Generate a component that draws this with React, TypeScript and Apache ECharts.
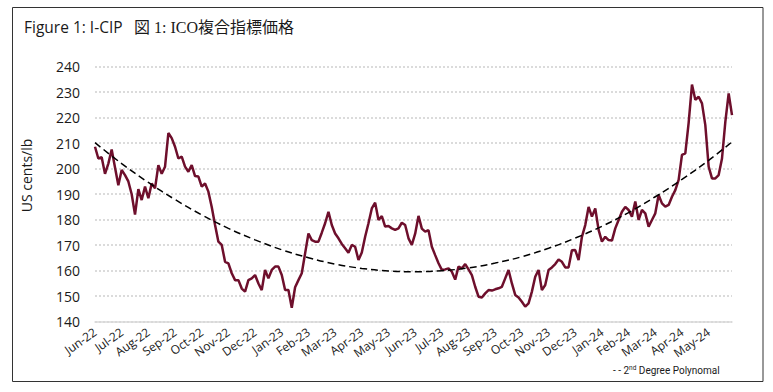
import React, { useEffect, useRef } from "react";
import * as echarts from "echarts";

const monthLabels = [
  "Jun-22", "Jul-22", "Aug-22", "Sep-22", "Oct-22", "Nov-22", "Dec-22", "Jan-23",
  "Feb-23", "Mar-23", "Apr-23", "May-23", "Jun-23", "Jul-23", "Aug-23", "Sep-23",
  "Oct-23", "Nov-23", "Dec-23", "Jan-24", "Feb-24", "Mar-24", "Apr-24", "May-24",
];

// I-CIP, US cents/lb, ~8 observations per month starting Jun 2022
const priceValues = [
  208.6, 204.0, 204.5, 198.0, 202.0, 207.5, 200.5, 193.5,
  199.5, 197.5, 195.0, 190.0, 182.0, 192.0, 187.7, 193.0,
  188.4, 194.2, 192.3, 201.4, 198.0, 200.8, 214.0, 212.0,
  208.6, 204.0, 204.7, 200.8, 198.8, 201.4, 197.1, 196.9,
  193.0, 194.2, 191.0, 185.0, 177.9, 171.4, 170.1, 163.5,
  162.9, 159.0, 156.3, 156.3, 153.0, 151.8, 156.3, 157.0,
  158.3, 155.0, 152.4, 160.3, 157.0, 160.3, 161.6, 161.6,
  158.3, 152.4, 152.4, 145.5, 153.5, 156.3, 159.0, 166.8,
  174.6, 172.0, 171.4, 171.4, 174.9, 178.6, 183.1, 177.9,
  174.6, 172.7, 170.5, 168.8, 167.0, 170.1, 169.4, 164.2,
  167.1, 173.3, 178.6, 184.4, 186.7, 179.9, 181.4, 177.3,
  177.5, 176.6, 176.0, 176.6, 178.8, 177.9, 172.7, 170.1,
  174.5, 181.5, 176.5, 175.3, 175.9, 169.4, 166.1, 162.9,
  160.3, 160.5, 160.9, 159.6, 156.5, 161.6, 160.9, 162.6,
  160.5, 158.3, 153.7, 149.8, 149.5, 151.1, 152.4, 152.2,
  152.7, 153.1, 153.7, 157.0, 160.3, 155.0, 150.5, 149.5,
  147.8, 145.9, 147.2, 151.8, 157.6, 160.3, 152.4, 154.4,
  160.3, 161.3, 162.6, 164.4, 163.5, 161.3, 161.3, 168.0,
  168.1, 164.2, 173.3, 177.9, 185.0, 181.2, 184.4, 176.0,
  171.4, 173.3, 172.0, 171.8, 176.6, 179.9, 183.1, 185.0,
  183.8, 181.2, 187.1, 179.9, 183.8, 182.5, 177.3, 179.9,
  182.5, 189.7, 186.4, 185.1, 185.8, 189.0, 191.6, 195.6,
  205.4, 206.0, 218.0, 233.0, 227.0, 228.2, 225.6, 217.1,
  200.8, 196.2, 196.2, 197.5, 204.0, 218.4, 229.5, 221.0,
];

// 2nd degree polynomial trend, read at month starts (and at the last observation)
const trendIndex = [0, 8, 16, 24, 32, 40, 48, 56, 64, 72, 80, 88, 96, 104, 112, 120, 128, 136, 144, 152, 160, 168, 176, 184, 191];
const trendValues = [
  210.2, 202.0, 194.6, 187.9, 181.9, 176.6, 172.1, 168.2, 165.1, 162.6, 160.9, 159.9,
  159.6, 160.0, 161.1, 163.0, 165.5, 168.8, 172.8, 177.4, 182.8, 189.0, 195.8, 203.3, 210.5,
];

const yTicks = { min: 140, max: 240, interval: 10 };
const POINTS_PER_MONTH = 8;
const SANS = "'Open Sans', 'Noto Sans', sans-serif";

export default function App() {
  const ref = useRef<HTMLDivElement>(null);

  useEffect(() => {
    if (!ref.current) return;
    const chart = echarts.init(ref.current, null, { renderer: "svg" });
    const priceData = priceValues.map((v, i) => [i, v]);
    const trendData = trendIndex.map((x, i) => [x, trendValues[i]]);
    const lastIndex = priceValues.length - 1;

    chart.setOption({
      animation: false,
      backgroundColor: "#ffffff",
      grid: { left: 95, right: 41, top: 66.7, bottom: 70.3, containLabel: false },
      xAxis: {
        type: "value",
        min: 0,
        max: lastIndex,
        interval: POINTS_PER_MONTH,
        axisLine: { show: true, lineStyle: { color: "#d9d9d9", width: 1.5 } },
        axisTick: { show: false },
        splitLine: { show: false },
        axisLabel: {
          rotate: 35,
          margin: 9,
          fontSize: 12,
          color: "#1a1a1a",
          fontFamily: SANS,
          showMaxLabel: false,
          formatter: (v: number) =>
            v % POINTS_PER_MONTH === 0 ? monthLabels[v / POINTS_PER_MONTH] ?? "" : "",
        },
      },
      yAxis: {
        type: "value",
        min: yTicks.min,
        max: yTicks.max,
        interval: yTicks.interval,
        axisLine: { show: false },
        axisTick: { show: false },
        axisLabel: {
          margin: 15,
          fontSize: 14,
          color: "#1a1a1a",
          fontFamily: SANS,
        },
        splitLine: { show: true, lineStyle: { color: "#cfcfcf", width: 1.5, type: [2, 2] } },
      },
      series: [
        {
          name: "I-CIP",
          type: "line",
          data: priceData,
          showSymbol: false,
          symbol: "none",
          lineStyle: { color: "#6e0f2c", width: 2.5 },
          z: 2,
        },
        {
          name: "2nd Degree Polynomal",
          type: "line",
          data: trendData,
          smooth: 0.4,
          showSymbol: false,
          symbol: "none",
          lineStyle: { color: "#000000", width: 1.5, type: [7, 4] },
          z: 3,
        },
      ],
      graphic: [
        {
          type: "rect",
          shape: { x: 12.5, y: 7.5, width: 750.5, height: 374 },
          style: { fill: "none", stroke: "#333333", lineWidth: 1 },
          silent: true,
        },
        {
          type: "text",
          x: 24,
          y: 27,
          style: {
            text: "Figure 1: I-CIP",
            fontSize: 15.5,
            fontFamily: SANS,
            fill: "#1a1a1a",
            verticalAlign: "middle",
          },
        },
        {
          type: "text",
          x: 134,
          y: 27,
          style: {
            text: "図 1: ICO複合指標価格",
            fontSize: 16,
            fontFamily: "'Liberation Serif', 'Noto Sans CJK JP', serif",
            fill: "#1a1a1a",
            verticalAlign: "middle",
          },
        },
        {
          type: "text",
          x: 26,
          y: 175.5,
          rotation: Math.PI / 2,
          style: {
            text: "US cents/lb",
            fontSize: 14,
            fontFamily: SANS,
            fill: "#1a1a1a",
            align: "center",
            verticalAlign: "middle",
          },
        },
        {
          type: "text",
          x: 613,
          y: 370,
          style: {
            text: "- - 2{sup|nd} Degree Polynomal",
            fontSize: 10,
            fontFamily: "Roboto, 'Noto Sans', sans-serif",
            fill: "#1a1a1a",
            verticalAlign: "middle",
            rich: {
              sup: {
                fontSize: 6.5,
                fontFamily: "Roboto, 'Noto Sans', sans-serif",
                fill: "#1a1a1a",
                verticalAlign: "top",
                lineHeight: 11,
              },
            },
          },
        },
      ],
    });

    return () => chart.dispose();
  }, []);

  return (
    <div
      ref={ref}
      style={{ position: "absolute", left: 0, top: 0, width: 773, height: 392, background: "#fff" }}
    />
  );
}
